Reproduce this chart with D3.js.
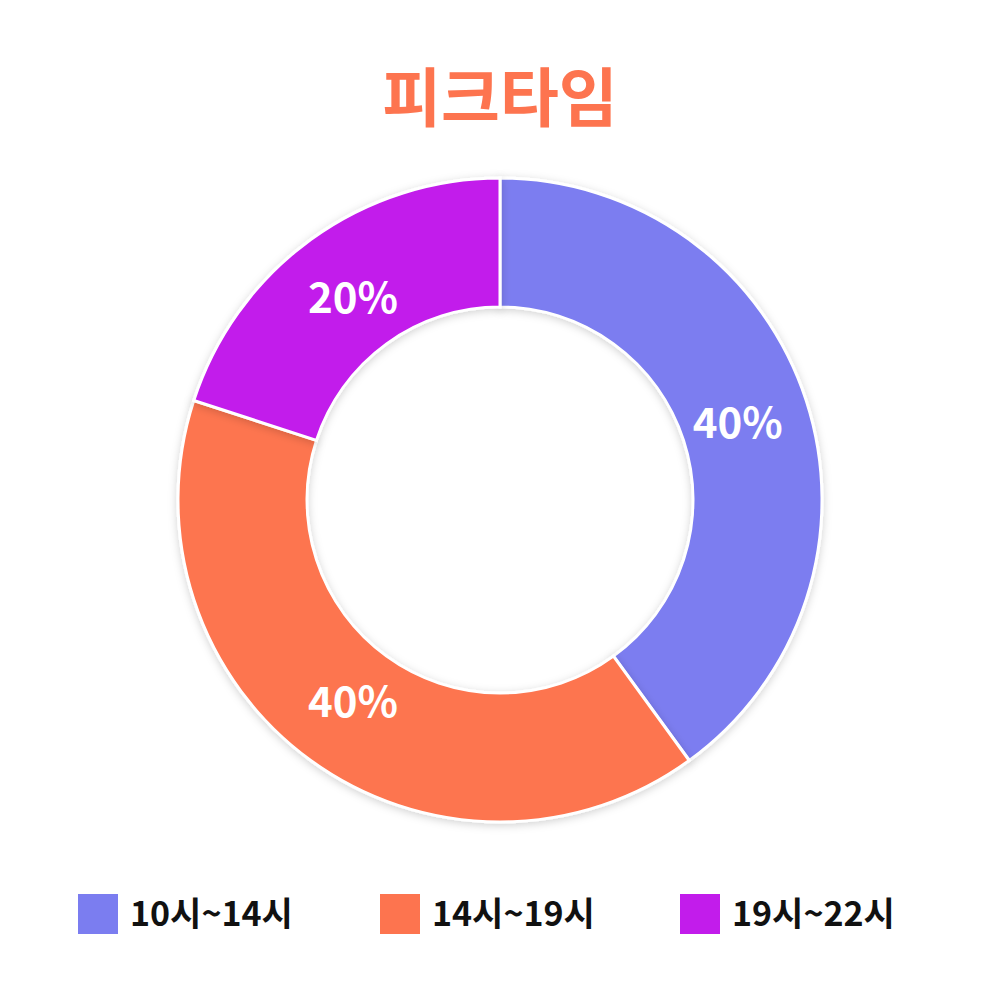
<!DOCTYPE html><html><head><meta charset="utf-8"><script src="https://cdn.jsdelivr.net/npm/d3@7"></script>
<style>body{margin:0;background:#fff}</style></head><body><svg id="c" width="1001" height="1001"></svg>
<script>
const title="피크타임";
const categories=["10시~14시","14시~19시","19시~22시"];
const values=[40,40,20];
const colors=["#7B7DF0","#FD744F","#C21CEB"];
const svg=d3.select("#c");
const font="'Noto Sans CJK KR','Noto Sans',sans-serif";
svg.append("text").attr("x",500).attr("y",121).attr("text-anchor","middle").attr("font-family",font).attr("font-weight",700).attr("font-size",64).attr("fill","#FD744F").text(title);
const defs=svg.append("defs");
const f=defs.append("filter").attr("id","sh").attr("x","-20%").attr("y","-20%").attr("width","140%").attr("height","140%");
f.append("feDropShadow").attr("dx",0).attr("dy",2).attr("stdDeviation",4).attr("flood-color","#000").attr("flood-opacity",0.18);
const g=svg.append("g").attr("transform","translate(500,500)");
const pie=d3.pie().sort(null).value(d=>d)(values);
const arc=d3.arc().innerRadius(193).outerRadius(322);
g.selectAll("path").data(pie).join("path").attr("d",arc).attr("fill",(d,i)=>colors[i]).attr("stroke","#fff").attr("stroke-width",3).attr("filter","url(#sh)");
const la=d3.arc().innerRadius(250).outerRadius(250);
g.selectAll("text").data(pie).join("text").attr("transform",d=>`translate(${la.centroid(d)})`).attr("text-anchor","middle").attr("dy","0.36em").attr("font-family",font).attr("font-weight",700).attr("font-size",42).attr("fill","#fff").text(d=>d.data+"%");
const lx=[78,380,680];
const lg=svg.append("g");
categories.forEach((c,i)=>{
 lg.append("rect").attr("x",lx[i]).attr("y",894).attr("width",40).attr("height",40).attr("fill",colors[i]);
 lg.append("text").attr("x",lx[i]+52).attr("y",914).attr("dy","0.36em").attr("font-family",font).attr("font-weight",700).attr("font-size",34).attr("fill","#111").text(c);
});
</script></body></html>
